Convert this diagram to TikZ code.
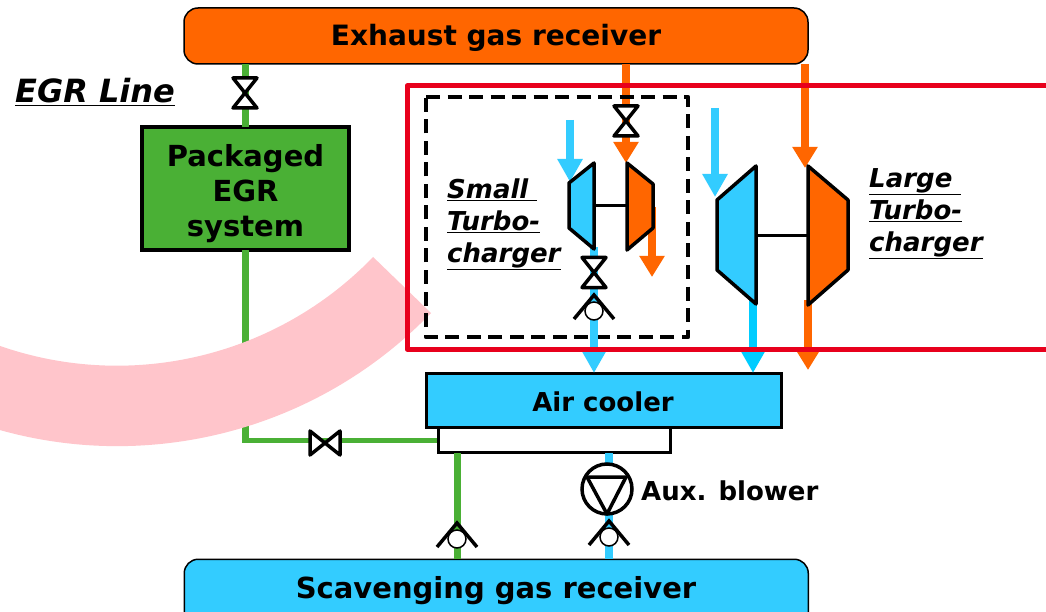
\documentclass[tikz,border=0pt]{standalone}
\usepackage{fontspec}
\setmainfont{DejaVu Sans}
\usetikzlibrary{arrows.meta}
\definecolor{orng}{HTML}{FF6600}
\definecolor{sky}{HTML}{33CCFF}
\definecolor{skyd}{HTML}{00CCFF}
\definecolor{grn}{HTML}{4AB035}
\definecolor{redl}{HTML}{E8001C}
\definecolor{pinkb}{HTML}{FFC5CB}
\tikzset{
  x=1pt,y=-1pt,
  box/.style={draw=black,line width=3pt,inner sep=0pt},
  lbl/.style={inner sep=0pt,text=black},
  ilbl/.style={inner sep=0pt,text=black,align=left,anchor=west},
  pipeG/.style={draw=grn,line width=7pt},
  pipeGh/.style={draw=grn,line width=5pt},
  pipeB/.style={draw=sky,line width=8pt},
  pipeO/.style={draw=orng,line width=8pt},
  flowB/.style={pipeB,-{Triangle[width=24pt,length=23pt]}},
  flowO/.style={pipeO,-{Triangle[width=24pt,length=21pt]}},
  sym/.style={draw=black,line width=3.5pt,line join=round},
  vvalve/.pic={\draw[sym,fill=white] (-12,-15) -- (12,-15) -- (-12,15) -- (12,15) -- cycle;},
  hvalve/.pic={\draw[sym,fill=white] (-15,-12) -- (-15,12) -- (15,-12) -- (15,12) -- cycle;},
  checkv/.pic={\draw[draw=black,line width=1.5pt,fill=white] (0,0) circle (9);
    \draw[draw=black,line width=3.5pt,line join=miter] (-20,8) -- (0,-16) -- (20,8);},
}
\begin{document}
\begin{tikzpicture}
\useasboundingbox (0,0) rectangle (1046,612);
\clip (0,0) rectangle (1046,612);
\fill[white] (0,0) rectangle (1046,612);

% blocks
\node[box,fill=orng,rounded corners=14pt,minimum width=624pt,minimum height=56pt,line width=1.5pt] (exh) at (496,36) {};
\node[lbl,font=\fontsize{28}{32}\bfseries\selectfont] (exhlbl) at (496,38) {Exhaust gas receiver};
\node[box,fill=grn,minimum width=207pt,minimum height=123pt,line width=3.5pt] (egr) at (245.5,188.5) {};
\node[lbl,align=center,font=\fontsize{29}{35}\bfseries\selectfont] (egrlbl) at (245.5,194) {Packaged\\EGR\\system};
\node[box,fill=white,minimum width=232pt,minimum height=25pt,anchor=north west] (white) at (437,426) {};
\node[box,fill=sky,minimum width=355pt,minimum height=54pt,anchor=north west] (cool) at (425,372) {};
\node[lbl,font=\fontsize{26}{30}\bfseries\selectfont] (coollbl) at (603,402) {Air cooler};
\node[box,fill=sky,rounded corners=14pt,minimum width=624pt,minimum height=72pt,line width=1.5pt,anchor=north west] (scav) at (183.5,558.5) {};
\node[lbl,font=\fontsize{29}{33}\bfseries\selectfont] (scavlbl) at (496,591) {Scavenging gas receiver};

% named ends
\coordinate (e1) at (245,64);
\coordinate (e2) at (245,127);
\coordinate (e3) at (245,250);
\coordinate (e4) at (245,443);
\coordinate (e5) at (437,440.5);
\coordinate (g1) at (457,453);
\coordinate (g2) at (457,559);
\coordinate (b1) at (609,453);
\coordinate (b2) at (609,559);
\coordinate (sOut1) at (626,64);
\coordinate (sOut2) at (626,163);
\coordinate (lOut1) at (805,64);
\coordinate (lOut2) at (805,168);
\coordinate (sAir1) at (570,120);
\coordinate (sAir2) at (570,182);
\coordinate (lAir1) at (715,108);
\coordinate (lAir2) at (715,197);

% green line
\draw[pipeG] (e1) -- (e2);
\draw[pipeG] (e3) -- (e4);
\draw[pipeGh] (242.5,440.5) -- (e5);
\draw[pipeG] (g1) -- (g2);
\draw[pipeB] (b1) -- (b2);

% pink band
\fill[pinkb] (431,313) arc[start angle=44,end angle=120,radius=436] -- ++(-40,-80)
  -- (117-178,10+308) arc[start angle=120,end angle=44,radius=356] -- cycle;

% flow arrows
\draw[flowO] (sOut1) -- (sOut2);
\draw[flowO] (lOut1) -- (lOut2);
\draw[flowB] (sAir1) -- (sAir2);
\draw[flowB] (lAir1) -- (lAir2);
\coordinate (sTo) at (652,207);
\coordinate (sEx) at (652,277);
\draw[flowO] (sTo) -- (sEx);
\coordinate (lFrom) at (753,300);
\coordinate (lCool) at (753,373);
\draw[flowB,draw=skyd] (lFrom) -- (lCool);
\coordinate (lTo) at (808,300);
\coordinate (lEx) at (808,370);
\draw[flowO] (lTo) -- (lEx);

% dashed frame
\draw[draw=black,line width=4.5pt,dash pattern=on 14pt off 7.5pt,line join=round] (426,97) -- (688,97) -- (688,337) -- (426,337) -- cycle;

% small compressor outlet runs over the dashes
\coordinate (sFrom) at (594,247);
\coordinate (sCool) at (594,373);
\draw[flowB] (sFrom) -- (sCool);

% red frame (open to the right)
\draw[draw=redl,line width=5pt,line join=round] (1050,86) -- (407,86) -- (407,349) -- (1050,349);

% turbochargers
\draw[sym,fill=sky] (569,183) -- (594,163) -- (594,249) -- (569,228) -- cycle;
\draw[sym,fill=orng] (627,163) -- (653,184) -- (653,228) -- (627,250) -- cycle;
\coordinate (sc) at (594,206); \coordinate (st) at (627,206);
\draw[sym,line width=3pt] (sc) -- (st);
\draw[sym,fill=sky] (717,200) -- (756,166) -- (756,304) -- (717,270) -- cycle;
\draw[sym,fill=orng] (808,166) -- (848,200) -- (848,270) -- (808,305) -- cycle;
\coordinate (lc) at (756,236); \coordinate (lt) at (808,236);
\draw[sym,line width=3pt] (lc) -- (lt);

% valves
\pic (v1) at (245,93) {vvalve};
\pic (v2) at (325,443) {hvalve};
\pic (v3) at (626,121) {vvalve};
\pic (v4) at (594,272.5) {vvalve};
\pic (c1) at (594,311) {checkv};
\pic (c2) at (457,539) {checkv};
\pic (c3) at (609,537) {checkv};

% blower
\node[circle,draw=black,line width=3.5pt,fill=white,minimum size=50pt,inner sep=0pt] (pump) at (607,489) {};
\draw[sym] (587,477) -- (626,477) -- (607,514) -- cycle;
\node[lbl,anchor=west,font=\fontsize{26}{30}\bfseries\selectfont] (auxlbl) at (641,491) {Aux. blower};

% labels
\node[ilbl,font=\fontsize{32}{34}\bfseries\itshape\selectfont] (egrl) at (15,92) {\underline{EGR Line}};
\node[ilbl,font=\fontsize{26}{32}\bfseries\itshape\selectfont] (small) at (447,224) {\underline{Small\ }\\\underline{Turbo-}\\\underline{charger}};
\node[ilbl,font=\fontsize{26}{32}\bfseries\itshape\selectfont] (large) at (869,214) {\underline{Large\ }\\\underline{Turbo-}\\\underline{charger}};
\end{tikzpicture}
\end{document}
